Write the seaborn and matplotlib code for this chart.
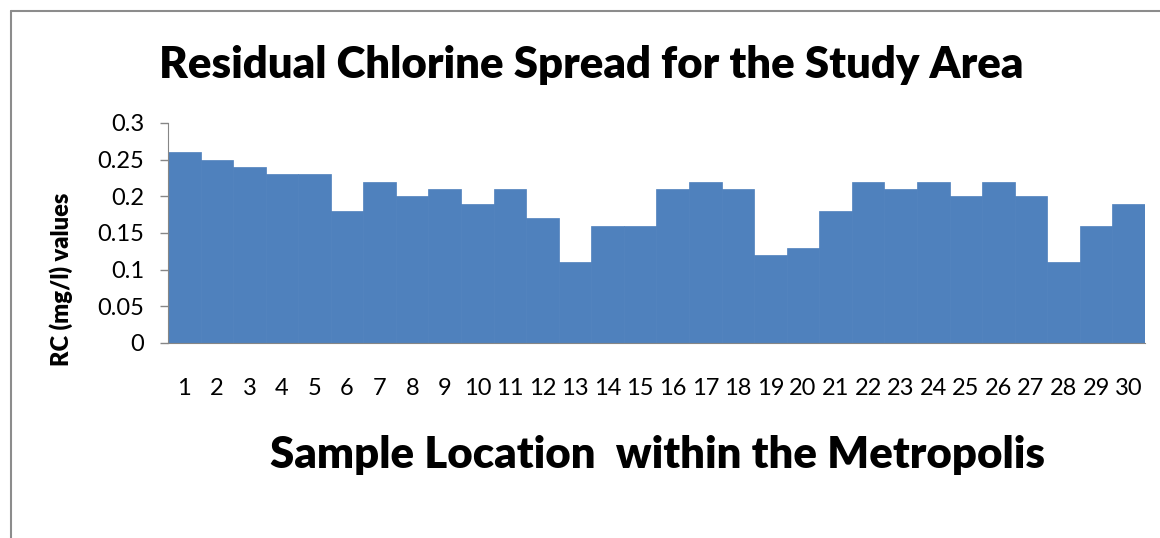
import numpy as np
import pandas as pd
import matplotlib
matplotlib.use('Agg')
import matplotlib.pyplot as plt
import seaborn as sns
from matplotlib.lines import Line2D

# data
locations = [str(i) for i in range(1, 31)]
rc_values = [0.26, 0.25, 0.24, 0.23, 0.23, 0.18, 0.22, 0.20, 0.21, 0.19,
             0.21, 0.17, 0.11, 0.16, 0.16, 0.21, 0.22, 0.21, 0.12, 0.13,
             0.18, 0.22, 0.21, 0.22, 0.20, 0.22, 0.20, 0.11, 0.16, 0.19]
y_ticks = [0, 0.05, 0.1, 0.15, 0.2, 0.25, 0.3]
y_tick_labels = ['0', '0.05', '0.1', '0.15', '0.2', '0.25', '0.3']

data = pd.DataFrame({'Location': locations, 'RC': rc_values})

sns.set_style('white')
plt.rcParams['font.family'] = ['Lato', 'DejaVu Sans']

fig = plt.figure(figsize=(11.6, 5.38), dpi=100)
ax = fig.add_axes([0.1448, 0.3625, 0.8422, 0.4089])

sns.barplot(x='Location', y='RC', data=data, color='#4F81BD', width=1.0,
            saturation=1, edgecolor='#4F81BD', linewidth=0.5, ax=ax)

ax.set_ylim(0, 0.3)
ax.set_xlim(-0.5, 29.5)
ax.set_yticks(y_ticks)
ax.set_yticklabels(y_tick_labels, fontsize=17, color='black')
ax.tick_params(axis='x', labelsize=17, labelcolor='black', length=0, pad=25)
ax.tick_params(axis='y', length=6, width=1, color='#868686', left=True, pad=11)

for side in ['top', 'right']:
    ax.spines[side].set_visible(False)
ax.spines['left'].set_color('#868686')
ax.spines['bottom'].set_color('#868686')

ax.set_xlabel('Sample Location  within the Metropolis', fontsize=31.5, fontweight='heavy', color='black')
ax.set_ylabel('RC (mg/l) values', fontsize=17, fontweight='heavy', color='black')
ax.xaxis.set_label_coords(0.501, -0.42)
ax.yaxis.set_label_coords(-0.097, 0.29)

fig.text(0.51, 0.88, 'Residual Chlorine Spread for the Study Area', ha='center', va='center',
         fontsize=31.5, fontweight='heavy', color='black')

# outer frame (left and top only, as cropped in the reference)
fig.add_artist(Line2D([0.0095, 0.0095], [0, 0.98], color='#8c8c8c', linewidth=1.5))
fig.add_artist(Line2D([0.0095, 1.0], [0.98, 0.98], color='#8c8c8c', linewidth=1.5))

fig.savefig('out.png', dpi=100)
